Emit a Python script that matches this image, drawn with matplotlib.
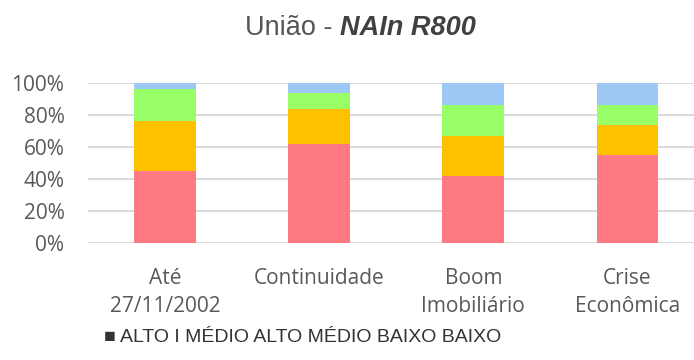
import matplotlib
matplotlib.use("Agg")
import matplotlib.pyplot as plt
from matplotlib.ticker import PercentFormatter

# Data: share of each risk class per period (%)
categories = ["Até\n27/11/2002", "Continuidade", "Boom\nImobiliário", "Crise\nEconômica"]
series_names = ["ALTO", "MÉDIO ALTO", "MÉDIO BAIXO", "BAIXO"]
alto = [45, 62, 42, 55]
medio_alto = [31, 22, 25, 19]
medio_baixo = [20, 10, 19, 12]
baixo = [4, 6, 14, 14]
yticks = [0, 20, 40, 60, 80, 100]

colors = ["#FF7A80", "#FFC000", "#99FF66", "#9DC8F5"]
tick_color = "#595959"

fig = plt.figure(figsize=(6.94, 3.60), dpi=100)
W, H = 694, 360
ax = fig.add_axes([88 / W, (H - 243) / H, (704.5 - 88) / W, 160 / H])

x = list(range(len(categories)))
bottom = [0] * len(categories)
for vals, col, name in zip([alto, medio_alto, medio_baixo, baixo], colors, series_names):
    ax.bar(x, vals, width=0.40, bottom=bottom, color=col, label=name, zorder=3)
    bottom = [b + v for b, v in zip(bottom, vals)]

ax.set_xlim(-0.5, len(categories) - 0.5)
ax.set_ylim(0, 100)
ax.set_yticks(yticks)
ax.yaxis.set_major_formatter(PercentFormatter(decimals=0))
ax.grid(axis="y", color="#D9D9D9", linewidth=1.4, zorder=0)
ax.set_axisbelow(True)
for s in ax.spines.values():
    s.set_visible(False)

ax.set_xticks(x)
ax.set_xticklabels(categories, linespacing=1.45)
ax.tick_params(axis="both", length=0, colors=tick_color, labelsize=15)
ax.tick_params(axis="y", pad=17)
ax.tick_params(axis="x", pad=18)
for lab in ax.get_xticklabels() + ax.get_yticklabels():
    lab.set_fontfamily("Open Sans")

# Title: regular part followed by a bold italic part
ty = 1 - 28 / H
t1 = fig.text(245 / W, ty, "União - ", ha="left", va="center",
              fontsize=19.5, color="#555555", family="Liberation Sans")
fig.canvas.draw()
bb = t1.get_window_extent()
fig.text(bb.x1 / W, ty, "NAIn R800", ha="left", va="center",
         fontsize=19.5, color="#404040", family="Liberation Sans",
         fontweight="bold", fontstyle="italic")

# Legend rendered as a single text line
fig.text(104 / W, 1 - 338 / H, "■ " + series_names[0] + " I " + " ".join(series_names[1:]),
         ha="left", va="center", fontsize=14, color="#333333", family="Liberation Sans")

# Heading fragment at the top edge
fig.text(2 / W, 1 + 4 / H, "o 2.1.6", ha="left", va="center",
         fontsize=14, color="#444444", family="Liberation Sans")

fig.savefig("out.png", dpi=100)
